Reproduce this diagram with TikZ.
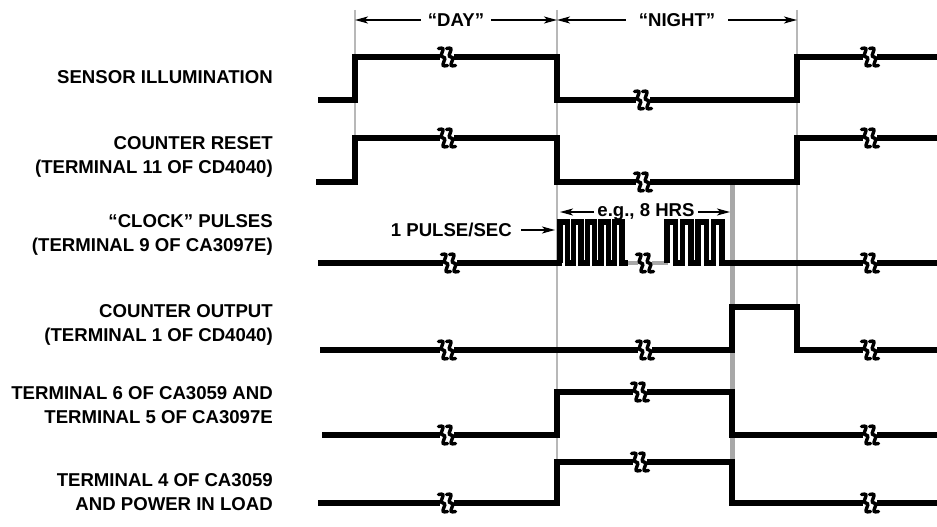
\documentclass[tikz,border=0pt]{standalone}
\usepackage{fontspec}
\setmainfont{Liberation Sans}
\usepackage{xcolor}
\usetikzlibrary{arrows.meta,positioning}
\definecolor{ink}{HTML}{000000}
\definecolor{guide}{HTML}{B8B8B8}
\definecolor{hold}{HTML}{A8A8A8}

\newcommand{\brkmark}[2]{%
  \fill[white] (#1-7,#2-4.5) rectangle (#1+7,#2+4.5);
  \foreach \dx in {-4,4}
    \draw[ink, line width=3.4pt, line cap=round]
      (#1+\dx-4.5,#2-8.5) .. controls (#1+\dx+6,#2-11) and (#1+\dx-6,#2-1) .. (#1+\dx,#2)
      .. controls (#1+\dx+6,#2+1) and (#1+\dx-6,#2+11) .. (#1+\dx+4.5,#2+8.5);}

\begin{document}
\begin{tikzpicture}[x=1pt, y=-1pt,
    font=\fontsize{18.6}{23.5}\selectfont\bfseries,
    lbl/.style={anchor=east, align=right, inner sep=0pt, text=ink},
    sig/.style={ink, line width=6pt},
    pulse/.style={ink, line width=5.4pt},
    guideline/.style={guide, line width=1.2pt},
    dim/.style={ink, line width=1.1pt, -{Stealth[length=13pt,width=7pt,inset=3.5pt]}}]
      \useasboundingbox (0,0) rectangle (937,527);

      \coordinate (m1) at (355,20);
      \coordinate (m2) at (557,20);
      \coordinate (m3) at (797,20);
      \draw[guideline] (355,10) -- (355,185);
      \draw[guideline] (557,10) -- (557,505);
      \draw[guideline] (797,10) -- (797,310);
      \draw[hold, line width=5pt] (732,183) -- (732,503);

      \node[text=ink, inner sep=7pt] (day) at (456,20) {“DAY”};
      \node[text=ink, inner sep=13pt] (night) at (677,20) {“NIGHT”};
      \draw[dim] (day.west) -- (m1);
      \draw[dim] (day.east) -- (m2);
      \draw[dim] (night.west) -- (m2);
      \draw[dim] (night.east) -- (m3);

      \node[lbl] (lsensor) at (273,77) {SENSOR ILLUMINATION};
      \node[lbl] (lreset) at (273,157) {COUNTER RESET\\(TERMINAL 11 OF CD4040)};
      \node[lbl] (lclock) at (273,235) {“CLOCK” PULSES\\(TERMINAL 9 OF CA3097E)};
      \node[lbl] (lcount) at (273,325) {COUNTER OUTPUT\\(TERMINAL 1 OF CD4040)};
      \node[lbl] (lterm6) at (273,405) {TERMINAL 6 OF CA3059 AND\\TERMINAL 5 OF CA3097E};
      \node[lbl] (lterm4) at (273,492) {TERMINAL 4 OF CA3059\\AND POWER IN LOAD};

      \draw[sig] (318,100) -- (355,100) -- (355,57) -- (557,57) -- (557,100) -- (797,100) -- (797,57) -- (937,57);
      \brkmark{447}{57} \brkmark{643}{100} \brkmark{870}{57}

      \draw[sig] (316,182) -- (355,182) -- (355,138) -- (557,138) -- (557,182) -- (797,182) -- (797,138) -- (937,138);
      \brkmark{447}{138} \brkmark{643}{182} \brkmark{870}{138}

      \draw[sig] (318,263) -- (562,263);
      \draw[pulse] (560,263) \foreach \i in {1,...,5} { -- ++(0,-41) -- ++(7.4,0) -- ++(0,41) -- ++(6.2,0)};
      \draw[hold, line width=4.5pt] (628,263) -- (668,263);
      \draw[pulse] (667,263) \foreach \i in {1,...,4} { -- ++(0,-41) -- ++(8.6,0) -- ++(0,41) -- ++(6.9,0)};
      \draw[sig] (727,263) -- (937,263);
      \brkmark{450}{263} \brkmark{645}{263} \brkmark{870}{263}

      \node[text=ink, inner sep=3pt] (eg) at (646,212) {e.g., 8 HRS};
      \coordinate (egl) at (560,212);
      \coordinate (egr) at (730,212);
      \draw[dim] (eg.west) -- (egl);
      \draw[dim] (eg.east) -- (egr);
      \node[lbl] (rate) at (512,230) {1 PULSE/SEC};
      \coordinate (ratep) at (555,230);
      \draw[dim] ([xshift=9pt]rate.east) -- (ratep);

      \draw[sig] (320,350) -- (732,350) -- (732,307) -- (797,307) -- (797,350) -- (937,350);
      \brkmark{447}{350} \brkmark{645}{350} \brkmark{870}{350}

      \draw[sig] (322,435) -- (557,435) -- (557,392) -- (732,392) -- (732,435) -- (937,435);
      \brkmark{447}{435} \brkmark{640}{392} \brkmark{870}{435}

      \draw[sig] (318,503) -- (557,503) -- (557,462) -- (732,462) -- (732,503) -- (937,503);
      \brkmark{447}{503} \brkmark{640}{462} \brkmark{870}{503}
\end{tikzpicture}
\end{document}
